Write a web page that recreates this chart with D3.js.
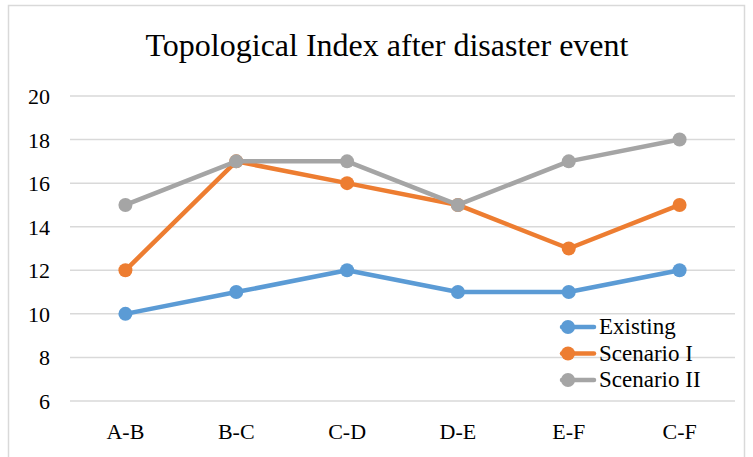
<!DOCTYPE html>
<html>
<head>
<meta charset="utf-8">
<script src="https://cdn.jsdelivr.net/npm/d3@7"></script>
<style>
    body { margin: 0; background: #fff; }
    svg text { font-family: "Liberation Serif", "Times New Roman", serif; fill: #000; }
</style>
</head>
<body>
<div id="chart"></div>
<script>
// data
var categories = ["A-B", "B-C", "C-D", "D-E", "E-F", "C-F"];
var existing = [10, 11, 12, 11, 11, 12];
var scenario1 = [12, 17, 16, 15, 13, 15];
var scenario2 = [15, 17, 17, 15, 17, 18];
var yTicks = [6, 8, 10, 12, 14, 16, 18, 20];
var seriesNames = ["Existing", "Scenario I", "Scenario II"];
var seriesColors = ["#5B9BD5", "#ED7D31", "#A5A5A5"];

var svgWidth = 753;
var svgHeight = 457;
var margin = { top: 96, right: 18, bottom: 56, left: 70 };
var chart_width = svgWidth - margin.left - margin.right;
var chart_height = svgHeight - margin.top - margin.bottom;

var svg = d3.select("#chart")
    .append("svg")
    .attr("width", svgWidth)
    .attr("height", svgHeight);

// outer frame
svg.append("rect")
    .attr("x", 8.5)
    .attr("y", 5.5)
    .attr("width", 736)
    .attr("height", 470)
    .attr("fill", "none")
    .attr("stroke", "#D9D9D9")
    .attr("stroke-width", 1.5);

svg.append("text")
    .attr("x", 387)
    .attr("y", 56)
    .attr("text-anchor", "middle")
    .style("font-size", "32px")
    .text("Topological Index after disaster event");

var chartGroup = svg.append("g")
    .attr("transform", `translate(${margin.left}, ${margin.top})`);

var xScale = d3.scaleBand()
    .domain(categories)
    .range([0, chart_width])
    .padding(0);
var yScale = d3.scaleLinear()
    .domain([6, 20])
    .range([chart_height, 0]);

// gridlines
chartGroup.selectAll(".grid")
    .data(yTicks)
    .enter()
    .append("line")
    .attr("x1", 0)
    .attr("x2", chart_width)
    .attr("y1", d => yScale(d))
    .attr("y2", d => yScale(d))
    .attr("stroke", "#D9D9D9")
    .attr("stroke-width", 1.5);

// y axis labels
var leftAxis = d3.axisLeft(yScale).tickValues(yTicks).tickSize(0).tickPadding(20);
var yAxisG = chartGroup.append("g").call(leftAxis)
    .attr("font-family", "Liberation Serif")
    .attr("font-size", 22);
yAxisG.select(".domain").remove();
yAxisG.selectAll("text").attr("dy", "0.34em");

// x axis labels
var bottomAxis = d3.axisBottom(xScale).tickSize(0).tickPadding(22);
var xAxisG = chartGroup.append("g")
    .attr("transform", `translate(0, ${chart_height})`)
    .call(bottomAxis)
    .attr("font-family", "Liberation Serif")
    .attr("font-size", 22);
xAxisG.select(".domain").remove();

// lines
var allSeries = [existing, scenario1, scenario2];
var line_gen = d3.line()
    .x((d, i) => xScale(categories[i]) + xScale.bandwidth() / 2)
    .y(d => yScale(d));

allSeries.forEach(function(values, s) {
    chartGroup.append("path")
        .attr("d", line_gen(values))
        .attr("fill", "none")
        .attr("stroke", seriesColors[s])
        .attr("stroke-width", 4.5)
        .attr("stroke-linejoin", "round")
        .attr("stroke-linecap", "round");
    chartGroup.selectAll(".pt" + s)
        .data(values)
        .enter()
        .append("circle")
        .attr("cx", (d, i) => xScale(categories[i]) + xScale.bandwidth() / 2)
        .attr("cy", d => yScale(d))
        .attr("r", 7)
        .attr("fill", seriesColors[s]);
});

// legend
var legend = svg.append("g").attr("transform", "translate(560, 327)");
seriesNames.forEach(function(name, i) {
    var row = legend.append("g").attr("transform", `translate(0, ${i * 26.5})`);
    row.append("line")
        .attr("x1", 2)
        .attr("x2", 34)
        .attr("stroke", seriesColors[i])
        .attr("stroke-width", 4.5)
        .attr("stroke-linecap", "round");
    row.append("circle")
        .attr("cx", 8)
        .attr("r", 7)
        .attr("fill", seriesColors[i]);
    row.append("text")
        .attr("x", 39)
        .attr("y", 7)
        .style("font-size", "23px")
        .text(name);
});
</script>
</body>
</html>
